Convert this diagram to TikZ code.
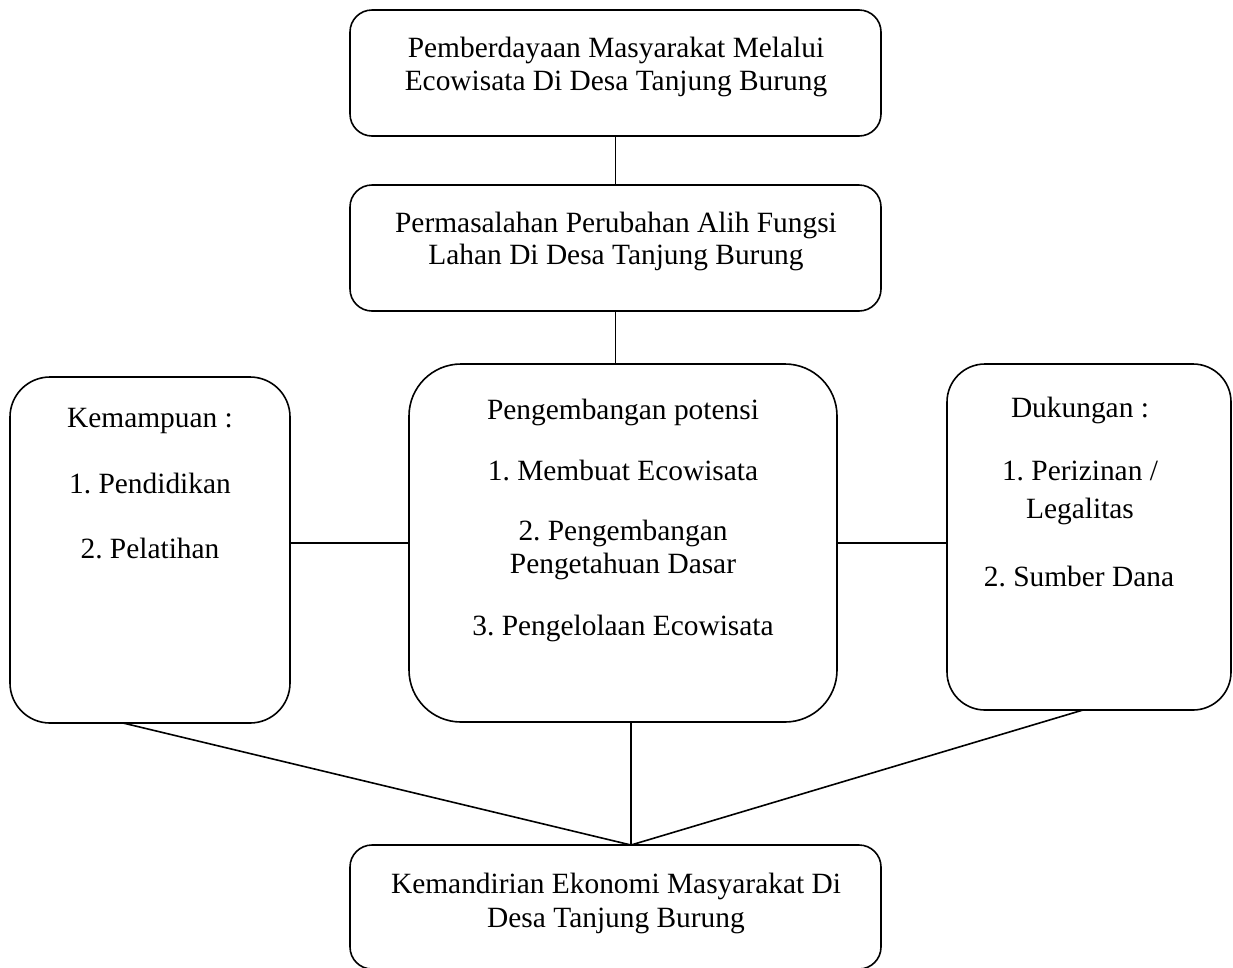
\documentclass[tikz,border=0pt]{standalone}
\usepackage{fontspec}
\setmainfont{Liberation Serif}
\frenchspacing
\begin{document}
\begin{tikzpicture}[x=1pt,y=-1pt,
  box/.style={draw,line width=1.6pt,rounded corners=#1,inner sep=0pt,outer sep=0pt},
  txt/.style={font=\fontsize{29.4}{33}\selectfont,inner sep=0pt,anchor=base},
  link/.style={line width=1.6pt}]
\useasboundingbox (0,0) rectangle (1233,967);
% boxes
\node[box=22pt,minimum width=531pt,minimum height=126pt] (top) at (615.5,73) {};
\node[box=22pt,minimum width=531pt,minimum height=126pt] (prob) at (615.5,248) {};
\node[box=40pt,minimum width=280pt,minimum height=346pt] (left) at (150,550) {};
\node[box=52pt,minimum width=428pt,minimum height=358pt] (dev) at (623,543) {};
\node[box=38pt,minimum width=284pt,minimum height=346pt] (right) at (1089,537) {};
\node[box=22pt,minimum width=531pt,minimum height=124pt] (goal) at (615.5,907) {};
% texts
\node[txt] (t1a) at (616,57) {Pemberdayaan Masyarakat Melalui};
\node[txt] (t1b) at (616,90) {Ecowisata Di Desa Tanjung Burung};
\node[txt] (t2a) at (616,232) {Permasalahan Perubahan Alih Fungsi};
\node[txt] (t2b) at (616,264) {Lahan Di Desa Tanjung Burung};
\node[txt] (l1) at (150,427) {Kemampuan :};
\node[txt] (l2) at (150,493) {1. Pendidikan};
\node[txt] (l3) at (150,558) {2. Pelatihan};
\node[txt] (c1) at (623,419) {Pengembangan potensi};
\node[txt] (c2) at (623,480) {1. Membuat Ecowisata};
\node[txt] (c3) at (623,540) {2. Pengembangan};
\node[txt] (c4) at (623,573) {Pengetahuan Dasar};
\node[txt] (c5) at (623,635) {3. Pengelolaan Ecowisata};
\node[txt] (r1) at (1080,417) {Dukungan :};
\node[txt] (r2) at (1080,480) {1. Perizinan /};
\node[txt] (r3) at (1080,518) {Legalitas};
\node[txt] (r4) at (1079,586) {2. Sumber Dana};
\node[txt] (g1) at (616,893) {Kemandirian Ekonomi Masyarakat Di};
\node[txt] (g2) at (616,927) {Desa Tanjung Burung};
% connector points
\coordinate (m) at (631,845);
\coordinate (lb) at (123,723);
\coordinate (rb) at (1083,710);
% connectors
\draw[link] (top.south) -- (prob.north);
\draw[link] (prob.south) -- (prob.south |- dev.north);
\draw[link] (left.east |- dev.west) -- (dev.west);
\draw[link] (dev.east) -- (right.west |- dev.east);
\draw[link] (dev.south -| m) -- (m);
\draw[link] (lb) -- (m);
\draw[link] (rb) -- (m);
\end{tikzpicture}
\end{document}
